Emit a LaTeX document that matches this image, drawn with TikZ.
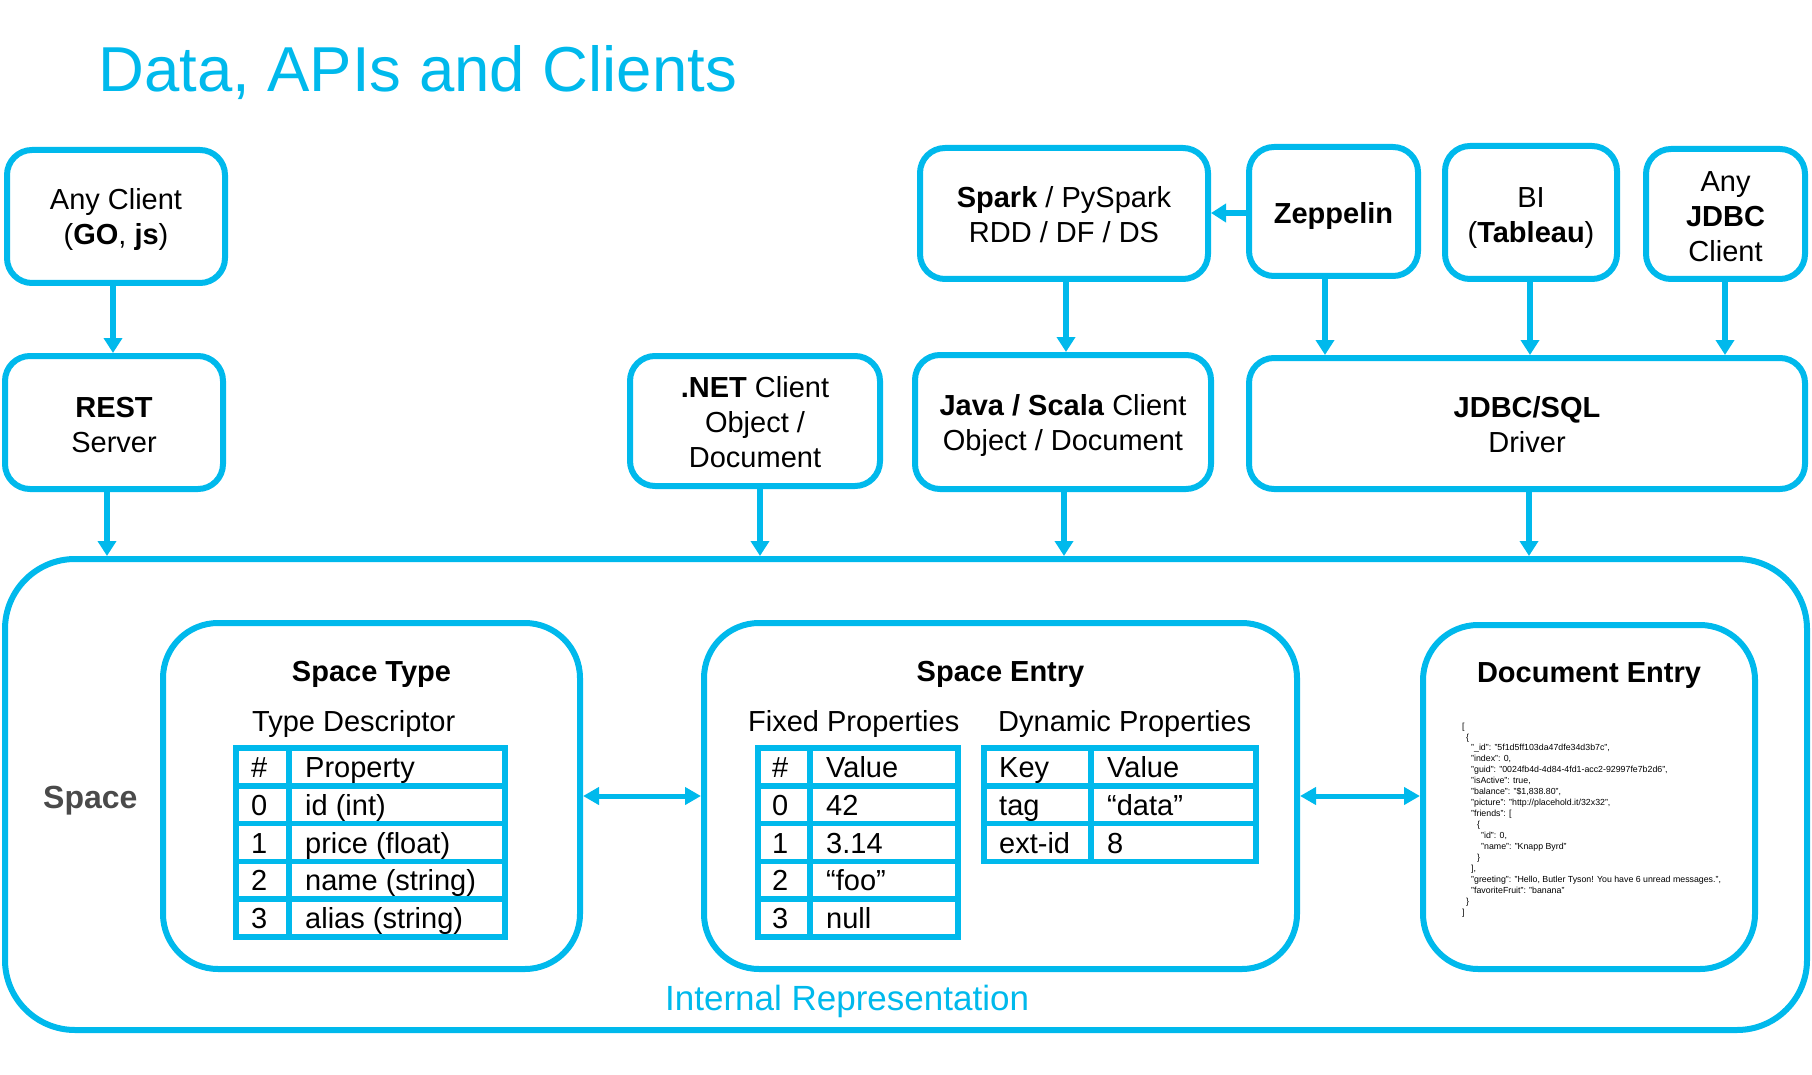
\documentclass[tikz,border=0pt]{standalone}
\usepackage{fontspec}
\setmainfont{Liberation Sans}
\usetikzlibrary{arrows.meta,calc}
\definecolor{cy}{RGB}{0,185,236}
\definecolor{sgray}{RGB}{74,74,74}
\begin{document}
\begin{tikzpicture}[x=1pt,y=-1pt,
  box/.style={draw=cy,line width=6pt,rounded corners=25pt,inner sep=0pt},
  btxt/.style={align=center,inner sep=0pt,font=\fontsize{29}{35}\selectfont},
  bigbox/.style={draw=cy,line width=6pt,rounded corners=55pt,inner sep=0pt},
  arr/.style={draw=cy,line width=6pt,-{Triangle[width=18pt,length=15pt]}},
  dbl/.style={draw=cy,line width=5pt,{Triangle[width=17pt,length=16pt]}-{Triangle[width=17pt,length=16pt]}},
  tbl/.style={draw=cy,line width=5.5pt},
  cell/.style={anchor=base west,inner sep=0pt,font=\fontsize{29}{35}\selectfont},
  head/.style={anchor=base,inner sep=0pt,font=\fontsize{29}{35}\selectfont\bfseries},
]
\useasboundingbox (0,0) rectangle (1812,1075);

% title
\node[anchor=base west,inner sep=0pt,text=cy,font=\fontsize{63.5}{70}\selectfont] (title) at (98,92) {Data, APIs and Clients};

% outer space
\node[draw=cy,line width=6pt,rounded corners=70pt,inner sep=0pt,minimum width=1802pt,minimum height=471pt] (space) at (906,794.5) {};
\node[anchor=base west,inner sep=0pt,text=sgray,font=\fontsize{32}{36}\selectfont\bfseries] (spacelbl) at (43,808) {Space};
\node[anchor=base west,inner sep=0pt,text=cy,font=\fontsize{35}{40}\selectfont] (irep) at (665,1010) {Internal Representation};

% top boxes
\node[box,minimum width=218pt,minimum height=133pt] (anyc) at (116,216.5) {};
\node[box,minimum width=218pt,minimum height=133pt] (rest) at (114,422.5) {};
\node[box,minimum width=250pt,minimum height=130pt] (net) at (755,421) {};
\node[box,minimum width=288pt,minimum height=131pt] (spark) at (1064,213.5) {};
\node[box,minimum width=169pt,minimum height=129pt] (zep) at (1333.5,211.5) {};
\node[box,minimum width=172pt,minimum height=133pt] (bi) at (1531,212.5) {};
\node[box,minimum width=159pt,minimum height=130pt] (anyj) at (1725.5,214) {};
\node[box,minimum width=296pt,minimum height=134pt] (java) at (1063,422) {};
\node[box,minimum width=556pt,minimum height=131pt] (jdbc) at (1527,423.5) {};

\node[btxt,yshift=-3.5pt] (anyc-t) at (anyc.center) {Any Client\\(\textbf{GO}, \textbf{js})};
\node[btxt,yshift=-2.5pt] (rest-t) at (rest.center) {\textbf{REST}\\Server};
\node[btxt,yshift=-1.5pt] (net-t) at (net.center) {\textbf{.NET} Client\\Object /\\Document};
\node[btxt,yshift=-1.5pt] (spark-t) at (spark.center) {\textbf{Spark} / PySpark\\RDD / DF / DS};
\node[btxt,yshift=-4.5pt] (zep-t) at (zep.center) {\textbf{Zeppelin}};
\node[btxt,yshift=-5.5pt] (bi-t) at (bi.center) {BI\\(\textbf{Tableau})};
\node[btxt,yshift=-2.5pt] (anyj-t) at (anyj.center) {Any\\\textbf{JDBC}\\Client};
\node[btxt,yshift=-3.5pt] (java-t) at (java.center) {\textbf{Java / Scala} Client\\Object / Document};
\node[btxt,yshift=-1.5pt] (jdbc-t) at (jdbc.center) {\textbf{JDBC/SQL}\\Driver};

% arrow positions
\coordinate (c1) at (113,0);
\coordinate (c2) at (107,0);
\coordinate (c3) at (760,0);
\coordinate (c4) at (1066,0);
\coordinate (c5) at (1064,0);
\coordinate (c6) at (1325,0);
\coordinate (c7) at (1530,0);
\coordinate (c8) at (1725,0);
\coordinate (c9) at (1529,0);
\coordinate (r1) at (0,213);

\draw[arr] (anyc.south -| c1) -- (rest.north -| c1);
\draw[arr] (rest.south -| c2) -- (space.north -| c2);
\draw[arr] (net.south -| c3) -- (space.north -| c3);
\draw[arr] (spark.south -| c4) -- (java.north -| c4);
\draw[arr] (java.south -| c5) -- (space.north -| c5);
\draw[arr] (zep.south -| c6) -- (jdbc.north -| c6);
\draw[arr] (bi.south -| c7) -- (jdbc.north -| c7);
\draw[arr] (anyj.south -| c8) -- (jdbc.north -| c8);
\draw[arr] (jdbc.south -| c9) -- (space.north -| c9);
\draw[arr] (zep.west |- r1) -- (spark.east |- r1);

% inner boxes
\node[bigbox,minimum width=417pt,minimum height=346pt] (stype) at (371.5,796) {};
\node[bigbox,minimum width=593pt,minimum height=346pt] (sentry) at (1000.5,796) {};
\node[bigbox,minimum width=332pt,minimum height=344pt] (doc) at (1589,797) {};

\draw[dbl] (stype.east) -- (sentry.west);
\draw[dbl] (sentry.east) -- (sentry.east -| doc.west);

% Space Type
\node[head] (sttitle) at (371.5,681) {Space Type};
\node[cell] (stdesc) at (252,731) {Type Descriptor};
\draw[tbl] (236,748) rectangle (505,937);
\draw[tbl] (289,748) -- (289,937);
\foreach \y in {785.8,823.6,861.4,899.2} \draw[tbl] (236,\y) -- (505,\y);
\foreach \a/\b [count=\i from 0] in {\#/Property,0/id (int),1/price (float),2/name (string),3/alias (string)} {
  \node[cell] (st-\i-a) at (251,777.4+37.8*\i) {\a};
  \node[cell] (st-\i-b) at (305,777.4+37.8*\i) {\b};
}

% Space Entry
\node[head] (setitle) at (1000.5,681) {Space Entry};
\node[cell] (sefixed) at (748,731) {Fixed Properties};
\node[cell] (sedyn) at (998,731) {Dynamic Properties};
\draw[tbl] (758,748) rectangle (958,937);
\draw[tbl] (810,748) -- (810,937);
\foreach \y in {785.8,823.6,861.4,899.2} \draw[tbl] (758,\y) -- (958,\y);
\foreach \a/\b [count=\i from 0] in {\#/Value,0/42,1/3.14,2/“foo”,3/null} {
  \node[cell] (fx-\i-a) at (772,777.4+37.8*\i) {\a};
  \node[cell] (fx-\i-b) at (826,777.4+37.8*\i) {\b};
}
\draw[tbl] (984,748) rectangle (1256,861.4);
\draw[tbl] (1091,748) -- (1091,861.4);
\foreach \y in {785.8,823.6} \draw[tbl] (984,\y) -- (1256,\y);
\foreach \a/\b [count=\i from 0] in {Key/Value,tag/“data”,ext-id/8} {
  \node[cell] (dy-\i-a) at (999,777.4+37.8*\i) {\a};
  \node[cell] (dy-\i-b) at (1107,777.4+37.8*\i) {\b};
}

% Document Entry
\node[head] (doctitle) at (1589,682) {Document Entry};
\node[anchor=north west,inner sep=0pt,align=left,font=\fontsize{8.8}{10.95}\selectfont] (json) at (1462,722.5) {%
[\\
\hspace*{4pt}\{\\
\hspace*{9pt}"\_id": "5f1d5ff103da47dfe34d3b7c",\\
\hspace*{9pt}"index": 0,\\
\hspace*{9pt}"guid": "0024fb4d-4d84-4fd1-acc2-92997fe7b2d6",\\
\hspace*{9pt}"isActive": true,\\
\hspace*{9pt}"balance": "\$1,838.80",\\
\hspace*{9pt}"picture": "http://placehold.it/32x32",\\
\hspace*{9pt}"friends": [\\
\hspace*{15pt}\{\\
\hspace*{19pt}"id": 0,\\
\hspace*{19pt}"name": "Knapp Byrd"\\
\hspace*{15pt}\}\\
\hspace*{9pt}],\\
\hspace*{9pt}"greeting": "Hello, Butler Tyson! You have 6 unread messages.",\\
\hspace*{9pt}"favoriteFruit": "banana"\\
\hspace*{4pt}\}\\
]};
\end{tikzpicture}
\end{document}
